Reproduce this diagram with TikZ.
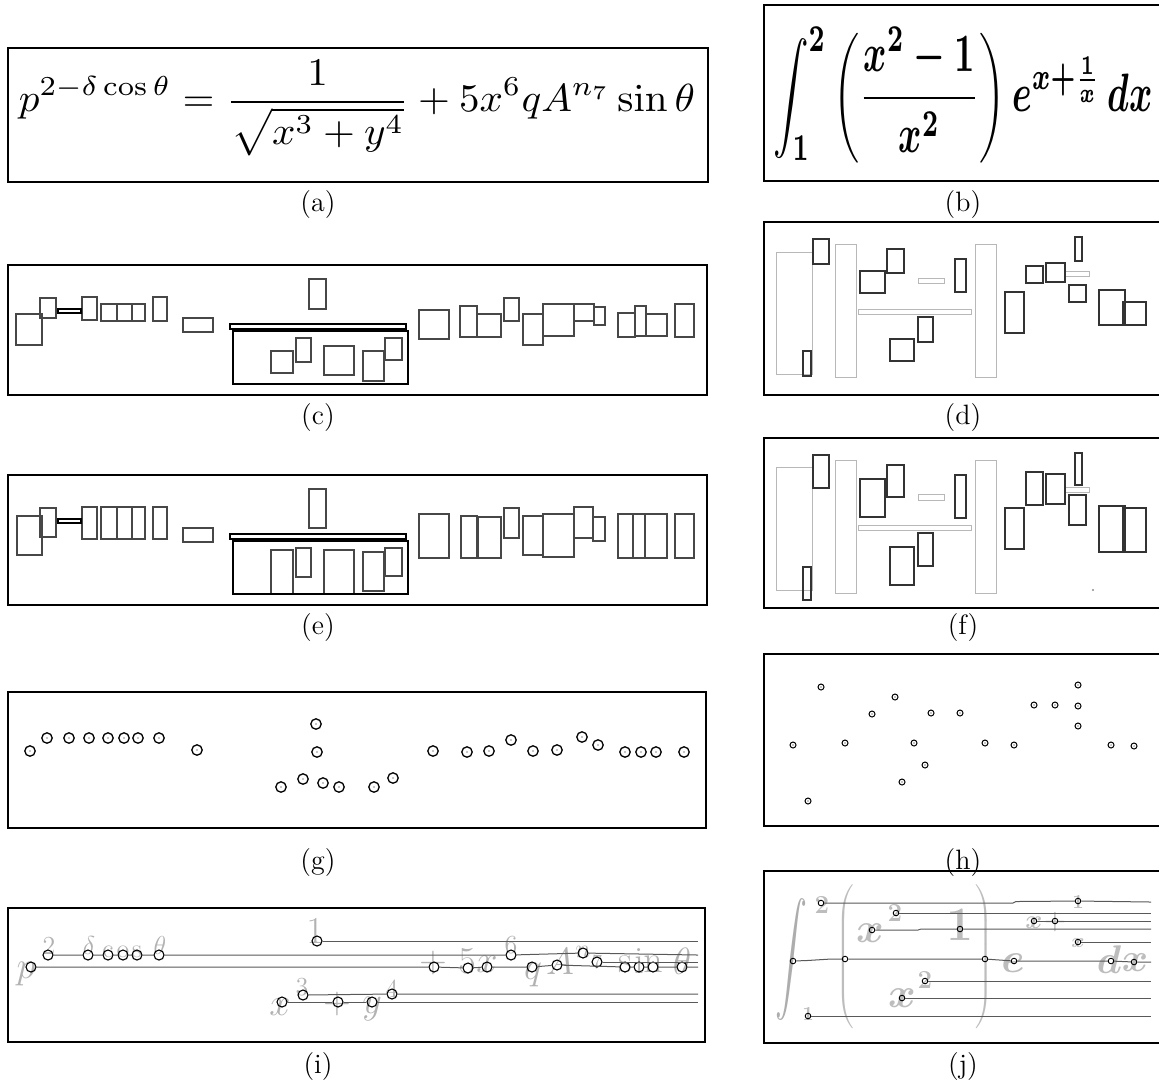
\RequirePackage{fix-cm}
\documentclass[tikz,border=0pt]{standalone}
\usepackage{graphicx}
\begin{document}
\begin{tikzpicture}[x=0.5pt, y=-0.5pt,
		panel/.style={draw, line width=1.4pt},
		subcap/.style={font=\fontsize{14}{17}\selectfont},
		blk/.style={draw=black!72, line width=0.55pt},
		heavybar/.style={draw=black, line width=0.9pt},
		lite/.style={draw=black!28, line width=0.5pt},
		dark/.style={draw=black!80, line width=0.6pt},
		pt/.style={circle, draw, line width=0.65pt, inner sep=0pt, minimum size=5.2pt,
				path picture={\fill[black!45] (path picture bounding box.center) circle (0.4pt);}},
		spt/.style={pt, line width=0.5pt, minimum size=3pt},
		ring/.style={circle, draw, line width=0.55pt, inner sep=0pt, minimum size=5pt},
		sring/.style={ring, line width=0.45pt, minimum size=2.8pt},
		trace/.style={draw=black!65, line width=0.5pt},
		gl/.style={text=black!30, inner sep=0pt, font=\fontsize{19}{19}\selectfont},
		glsup/.style={gl, font=\fontsize{13}{13}\selectfont},
		glsub/.style={gl, font=\fontsize{10}{10}\selectfont},
		bgl/.style={text=black!26, inner sep=0pt, font=\fontsize{21}{21}\selectfont\boldmath},
		bglsup/.style={bgl, font=\fontsize{13}{13}\selectfont\boldmath},
		bglsub/.style={bgl, font=\fontsize{10}{10}\selectfont\boldmath},
	]
	\fill[white] (0,0) rectangle (1159,1084);
	\useasboundingbox (0,0) rectangle (1159,1084);

	% (a) printed formula
	\draw[panel] (8,48) rectangle (708,182);
	\node (fa) at (357,108) {\resizebox*{338pt}{48pt}{$\displaystyle p^{2-\delta\cos\theta}=\frac{1}{\sqrt{x^3+y^4}}+5x^6qA^{n_7}\sin\theta$}};
	\node[subcap] (ca) at (318,204) {(a)};

	% (b) handwritten-like formula
	\draw[panel] (764,5) rectangle (1162,181);
	\node (fb) at (963,95) {\resizebox*{190pt}{68pt}{\boldmath$\displaystyle\int_1^2\left(\frac{x^2-1}{x^2}\right)e^{x+\frac{1}{x}}\,dx$}};
	\node[subcap] (cb) at (963,204) {(b)};

	% (c) boxes of (a)
	\draw[panel] (8,265) rectangle (707,395);
	\draw[blk] (16,314) rectangle (42,345) (40,298) rectangle (56,318) (82,297) rectangle (97,320)
	(101,304) rectangle (117,321) (117,304) rectangle (132,321) (132,304) rectangle (145,321)
	(153,297) rectangle (167,321) (183,318) rectangle (213,332) (309,279) rectangle (326,309)
	(271,351) rectangle (293,373) (296,338) rectangle (311,362) (324,346) rectangle (354,375)
	(363,351) rectangle (384,381) (385,338) rectangle (402,360) (419,310) rectangle (449,339)
	(460,306) rectangle (477,337) (477,314) rectangle (501,337) (504,298) rectangle (519,321)
	(523,314) rectangle (543,345) (543,304) rectangle (574,336) (574,304) rectangle (594,321)
	(594,307) rectangle (605,325) (618,313) rectangle (635,337) (635,306) rectangle (646,336)
	(646,314) rectangle (667,336) (675,304) rectangle (694,337);
	\draw[heavybar] (58,309) rectangle (81,313) (230,324) rectangle (406,329) (233,331) rectangle (408,384);
	\node[subcap] (cc) at (318,417) {(c)};

	% (d) boxes of (b)
	\draw[panel] (764,222) rectangle (1162,395);
	\draw[lite] (776,252) rectangle (812,374) (835,244) rectangle (856,377) (918,278) rectangle (944,283)
	(858,309) rectangle (971,314) (975,244) rectangle (996,377) (1065,271) rectangle (1089,276);
	\draw[dark] (813,239) rectangle (829,264) (803,351) rectangle (811,376) (860,271) rectangle (885,293)
	(887,249) rectangle (904,273) (955,259) rectangle (966,292) (918,317) rectangle (933,342)
	(890,339) rectangle (914,361) (1005,292) rectangle (1024,333) (1026,266) rectangle (1043,283)
	(1046,263) rectangle (1065,282) (1075,237) rectangle (1082,261) (1069,285) rectangle (1086,302)
	(1099,290) rectangle (1125,325) (1123,302) rectangle (1146,325);
	\node[subcap] (cd) at (963,417) {(d)};

	% (e) corrected boxes of (a)
	\draw[panel] (8,475) rectangle (707,605);
	\draw[blk] (17,516) rectangle (42,555) (40,508) rectangle (56,537) (82,507) rectangle (97,539)
	(101,507) rectangle (117,539) (117,507) rectangle (132,539) (132,507) rectangle (145,539)
	(153,507) rectangle (167,539) (183,528) rectangle (213,542) (309,489) rectangle (326,528)
	(271,550) rectangle (293,594) (296,548) rectangle (311,577) (324,550) rectangle (354,594)
	(363,552) rectangle (384,591) (385,548) rectangle (402,576) (419,514) rectangle (449,558)
	(461,516) rectangle (477,558) (478,517) rectangle (501,558) (504,508) rectangle (519,538)
	(523,516) rectangle (543,555) (543,514) rectangle (574,557) (574,507) rectangle (593,538)
	(593,517) rectangle (605,541) (618,514) rectangle (633,558) (633,514) rectangle (645,558)
	(645,514) rectangle (667,558) (675,514) rectangle (694,558);
	\draw[heavybar] (58,519) rectangle (81,523) (230,534) rectangle (406,539) (233,541) rectangle (408,594);
	\node[subcap] (ce) at (318,627) {(e)};

	% (f) corrected boxes of (b)
	\draw[panel] (764,438) rectangle (1162,608);
	\draw[lite] (776,467) rectangle (812,590) (835,460) rectangle (856,593) (918,494) rectangle (944,500)
	(858,525) rectangle (971,530) (975,460) rectangle (996,593) (1065,487) rectangle (1089,492);
	\draw[dark] (813,455) rectangle (829,488) (803,567) rectangle (811,600) (860,479) rectangle (885,517)
	(887,465) rectangle (904,497) (955,475) rectangle (966,518) (918,533) rectangle (933,566)
	(890,547) rectangle (914,585) (1005,508) rectangle (1024,549) (1026,472) rectangle (1043,505)
	(1046,474) rectangle (1065,504) (1075,453) rectangle (1082,485) (1069,495) rectangle (1086,525)
	(1099,506) rectangle (1125,552) (1123,508) rectangle (1146,552);
	\fill[black!45] (1093,590) circle (1.2);
	\node[subcap] (cf) at (963,627) {(f)};

	% (g) centres of (a)
	\draw[panel] (8,692) rectangle (706,828);
	\node[pt] (g1) at (30,751) {};   \node[pt] (g2) at (47,738) {};   \node[pt] (g3) at (69,738) {};
	\node[pt] (g4) at (89,738) {};   \node[pt] (g5) at (108,738) {};  \node[pt] (g6) at (124,738) {};
	\node[pt] (g7) at (138,738) {};  \node[pt] (g8) at (159,738) {};  \node[pt] (g9) at (197,750) {};
	\node[pt] (g10) at (316,724) {}; \node[pt] (g11) at (317,752) {}; \node[pt] (g12) at (281,787) {};
	\node[pt] (g13) at (303,779) {}; \node[pt] (g14) at (323,783) {}; \node[pt] (g15) at (339,787) {};
	\node[pt] (g16) at (374,787) {}; \node[pt] (g17) at (393,778) {}; \node[pt] (g18) at (433,751) {};
	\node[pt] (g19) at (467,752) {}; \node[pt] (g20) at (489,751) {}; \node[pt] (g21) at (511,740) {};
	\node[pt] (g22) at (533,751) {}; \node[pt] (g23) at (557,750) {}; \node[pt] (g24) at (582,737) {};
	\node[pt] (g25) at (598,745) {}; \node[pt] (g26) at (625,752) {}; \node[pt] (g27) at (641,752) {};
	\node[pt] (g28) at (656,752) {}; \node[pt] (g29) at (684,752) {};
	\node[subcap] (cg) at (318,862) {(g)};

	% (h) centres of (b)
	\draw[panel] (764,654) rectangle (1162,826);
	\node[spt] (h1) at (821,687) {};   \node[spt] (h2) at (895,697) {};   \node[spt] (h3) at (872,714) {};
	\node[spt] (h4) at (931,713) {};   \node[spt] (h5) at (960,713) {};   \node[spt] (h6) at (793,745) {};
	\node[spt] (h7) at (845,743) {};   \node[spt] (h8) at (914,743) {};   \node[spt] (h9) at (985,743) {};
	\node[spt] (h10) at (1014,745) {}; \node[spt] (h11) at (925,765) {};  \node[spt] (h12) at (902,782) {};
	\node[spt] (h13) at (808,801) {};  \node[spt] (h14) at (1034,705) {}; \node[spt] (h15) at (1055,705) {};
	\node[spt] (h16) at (1078,685) {}; \node[spt] (h17) at (1078,706) {}; \node[spt] (h18) at (1078,726) {};
	\node[spt] (h19) at (1111,745) {}; \node[spt] (h20) at (1134,746) {};
	\node[subcap] (ch) at (963,862) {(h)};

	% (i) symbols of (a) with their lines
	\draw[panel] (8,908) rectangle (705,1042);
	\node[gl] (ti1) at (26,974) {$p$};        \node[glsup] (ti2) at (49,946) {$2$};
	\node[glsup] (ti3) at (89,945) {$\delta$}; \node[glsup] (ti4) at (108,952) {$\mathrm{c}$};
	\node[glsup] (ti5) at (123,952) {$\mathrm{o}$}; \node[glsup] (ti6) at (137,952) {$\mathrm{s}$};
	\node[glsup] (ti7) at (160,945) {$\theta$}; \node[gl] (ti8) at (315,931) {$1$};
	\node[gl] (ti9) at (280,1007) {$x$};      \node[glsup] (ti10) at (302,987) {$3$};
	\node[gl] (ti11) at (337,1004) {$+$};     \node[gl] (ti12) at (372,1009) {$y$};
	\node[glsup] (ti13) at (392,989) {$4$};   \node[gl] (ti14) at (433,963) {$+$};
	\node[gl] (ti15) at (467,961) {$5$};      \node[gl] (ti16) at (487,964) {$x$};
	\node[glsup] (ti17) at (511,945) {$6$};   \node[gl] (ti18) at (533,975) {$q$};
	\node[gl] (ti19) at (560,961) {$A$};      \node[glsup] (ti20) at (583,952) {$n$};
	\node[glsub] (ti21) at (597,962) {$7$};   \node[gl] (ti22) at (625,964) {$\mathrm{s}$};
	\node[gl] (ti23) at (639,961) {$\mathrm{i}$}; \node[gl] (ti24) at (653,964) {$\mathrm{n}$};
	\node[gl] (ti25) at (682,961) {$\theta$};
	\node[ring] (i1) at (31,967) {};   \node[ring] (i2) at (48,955) {};   \node[ring] (i3) at (88,955) {};
	\node[ring] (i4) at (108,955) {};  \node[ring] (i5) at (123,955) {};  \node[ring] (i6) at (137,955) {};
	\node[ring] (i7) at (159,955) {};  \node[ring] (i8) at (317,941) {};  \node[ring] (i9) at (282,1002) {};
	\node[ring] (i10) at (303,995) {}; \node[ring] (i11) at (338,1002) {}; \node[ring] (i12) at (372,1002) {};
	\node[ring] (i13) at (392,994) {}; \node[ring] (i14) at (434,967) {}; \node[ring] (i15) at (468,968) {};
	\node[ring] (i16) at (487,967) {}; \node[ring] (i17) at (511,955) {}; \node[ring] (i18) at (532,967) {};
	\node[ring] (i19) at (557,965) {}; \node[ring] (i20) at (583,953) {}; \node[ring] (i21) at (597,962) {};
	\node[ring] (i22) at (625,967) {}; \node[ring] (i23) at (639,967) {}; \node[ring] (i24) at (653,967) {};
	\node[ring] (i25) at (682,967) {};
	\coordinate (ie1) at (698,941);  \coordinate (ie2) at (698,955);  \coordinate (ie3) at (698,967);
	\coordinate (ie4) at (698,962);  \coordinate (ie5) at (698,994);  \coordinate (ie6) at (698,1002);
	\draw[trace] (i8) -- (ie1);
	\draw[trace] (i2) -- (i3) -- (i4) -- (i5) -- (i6) -- (i7) -- (i17) -- (i20) -- (ie2);
	\draw[trace] (i1) -- (i14) -- (i15) -- (i16) -- (i18) -- (i19) -- (i22) -- (i23) -- (i24) -- (i25) -- (ie3);
	\draw[trace] (i21) -- (ie4);
	\draw[trace] (i10) -- (i13) -- (ie5);
	\draw[trace] (i9) -- (i11) -- (i12) -- (ie6);
	\node[subcap] (ci) at (318,1066) {(i)};

	% (j) symbols of (b) with their lines
	\draw[panel] (764,871) rectangle (1162,1043);
	\node[bgl, text=black!32] (tj1) at (791,959) {\resizebox*{16pt}{61pt}{$\displaystyle\int$}};
	\node[bglsup] (tj2) at (822,905) {$2$};   \node[bglsub] (tj3) at (808,1014) {$1$};
	\node[bgl] (tj4) at (846,958) {$\left(\vrule height 32pt depth 32pt width 0pt\right.$};
	\node[bgl] (tj5) at (870,933) {$x$};      \node[bglsup] (tj6) at (895,913) {$2$};
	\node[bgl, font=\fontsize{24}{24}\selectfont\boldmath] (tj7) at (960,925) {$1$};
	\node[bgl] (tj8) at (983,958) {$\left.\vrule height 32pt depth 32pt width 0pt\right)$};
	\node[bgl] (tj9) at (902,998) {$x$};      \node[bglsup] (tj10) at (925,980) {$2$};
	\node[bgl] (tj11) at (1013,963) {$e$};    \node[bglsup] (tj12) at (1034,923) {$x$};
	\node[bglsup] (tj13) at (1055,922) {$+$}; \node[bglsub] (tj14) at (1078,902) {$1$};
	\node[bglsub] (tj15) at (1078,943) {$x$};
	\node[bgl, font=\fontsize{20}{20}\selectfont\boldmath] (tj16) at (1109,960) {$d$};
	\node[bgl, font=\fontsize{20}{20}\selectfont\boldmath] (tj17) at (1135,963) {$x$};
	\node[sring] (j1) at (793,961) {};   \node[sring] (j2) at (821,903) {};   \node[sring] (j3) at (808,1016) {};
	\node[sring] (j4) at (845,959) {};   \node[sring] (j5) at (872,930) {};   \node[sring] (j6) at (896,913) {};
	\node[sring] (j7) at (960,929) {};   \node[sring] (j8) at (985,959) {};   \node[sring] (j9) at (902,998) {};
	\node[sring] (j10) at (925,981) {};  \node[sring] (j11) at (1014,961) {}; \node[sring] (j12) at (1034,921) {};
	\node[sring] (j13) at (1055,921) {}; \node[sring] (j14) at (1078,901) {}; \node[sring] (j15) at (1078,942) {};
	\node[sring] (j16) at (1111,961) {}; \node[sring] (j17) at (1134,962) {};
	\coordinate (je1) at (1151,902);  \coordinate (je2) at (1151,913);  \coordinate (je3) at (1151,921);
	\coordinate (je4) at (1151,929);  \coordinate (je5) at (1151,942);  \coordinate (je6) at (1151,962);
	\coordinate (je7) at (1151,981);  \coordinate (je8) at (1151,998);  \coordinate (je9) at (1151,1016);
	\draw[trace] (j2) -- (1013,903) -- (1016,901.5) -- (j14) -- (je1);
	\draw[trace] (j6) -- (je2);
	\draw[trace] (j12) -- (j13) -- (je3);
	\draw[trace] (j5) -- (918,930) -- (921,929) -- (j7) -- (je4);
	\draw[trace] (j15) -- (je5);
	\draw[trace] (j1) -- (807,960.5) -- (831,959) -- (j4) -- (j8) -- (j11) -- (j16) -- (j17) -- (je6);
	\draw[trace] (j10) -- (je7);
	\draw[trace] (j9) -- (je8);
	\draw[trace] (j3) -- (je9);
	\node[subcap] (cj) at (963,1066) {(j)};
\end{tikzpicture}
\end{document}
